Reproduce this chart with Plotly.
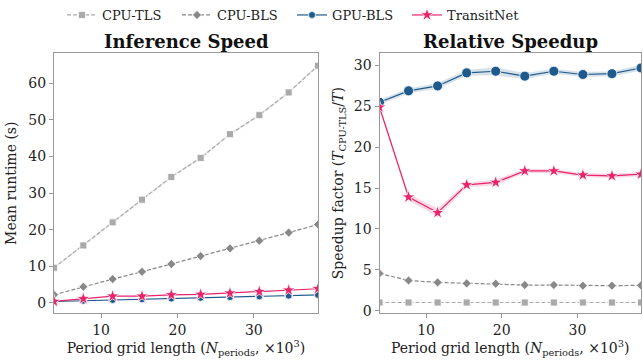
import plotly.graph_objects as go

# ---- data ----
x_periods = [3.84, 7.68, 11.52, 15.36, 19.2, 23.04, 26.88, 30.72, 34.56, 38.4]

rt_cpu_tls = [9.6, 15.7, 22.0, 28.2, 34.4, 39.6, 46.1, 51.3, 57.5, 64.8]
rt_cpu_bls = [2.2, 4.4, 6.5, 8.5, 10.6, 12.8, 14.9, 17.0, 19.2, 21.4]
rt_gpu_bls = [0.38, 0.58, 0.80, 0.97, 1.17, 1.38, 1.57, 1.78, 1.98, 2.18]
rt_transitnet = [0.39, 1.13, 1.83, 1.83, 2.20, 2.32, 2.69, 3.09, 3.48, 3.87]

sp_cpu_tls = [1.0, 1.0, 1.0, 1.0, 1.0, 1.0, 1.0, 1.0, 1.0, 1.0]
sp_cpu_bls = [4.55, 3.7, 3.46, 3.34, 3.3, 3.14, 3.14, 3.06, 3.06, 3.1]
sp_gpu_bls = [25.5, 26.9, 27.5, 29.1, 29.3, 28.7, 29.3, 28.9, 29.0, 29.7]
sp_transitnet = [24.9, 13.9, 12.0, 15.4, 15.7, 17.1, 17.1, 16.6, 16.5, 16.7]

# band half-widths (estimated)
band_gpu_bls = [0.3, 0.3, 0.35, 0.35, 0.5, 0.35, 0.3, 0.3, 0.3, 0.35]
band_transitnet = [0.3, 0.4, 0.5, 0.3, 0.35, 0.25, 0.25, 0.25, 0.25, 0.25]
band_rt = [0.3, 0.3, 0.3, 0.3, 0.3, 0.3, 0.3, 0.3, 0.3, 0.3]

series_names = ["CPU-TLS", "CPU-BLS", "GPU-BLS", "TransitNet"]
colors = {"CPU-TLS": "#aaaaaa", "CPU-BLS": "#888888", "GPU-BLS": "#1f5a8c", "TransitNet": "#e8246a"}
fills = {"GPU-BLS": "rgba(31,90,140,0.18)", "TransitNet": "rgba(232,36,106,0.18)",
         "CPU-TLS": "rgba(170,170,170,0.25)"}
symbols = {"CPU-TLS": "square", "CPU-BLS": "diamond", "GPU-BLS": "circle", "TransitNet": "star"}
dashes = {"CPU-TLS": "4px,2px", "CPU-BLS": "4px,2px", "GPU-BLS": "solid", "TransitNet": "solid"}

FONT = "DejaVu Serif"
fig = go.Figure()


def band(xa, ya, y, hw, color):
    lo = [v - h for v, h in zip(y, hw)]
    hi = [v + h for v, h in zip(y, hw)]
    fig.add_trace(go.Scatter(x=x_periods + x_periods[::-1], y=hi + lo[::-1], fill="toself",
                             fillcolor=color, line=dict(width=0), mode="lines",
                             hoverinfo="skip", showlegend=False, xaxis=xa, yaxis=ya))


band("x", "y", rt_cpu_tls, band_rt, fills["CPU-TLS"])
band("x2", "y2", sp_gpu_bls, band_gpu_bls, fills["GPU-BLS"])
band("x2", "y2", sp_transitnet, band_transitnet, fills["TransitNet"])

left = {"CPU-TLS": rt_cpu_tls, "CPU-BLS": rt_cpu_bls, "GPU-BLS": rt_gpu_bls, "TransitNet": rt_transitnet}
right = {"CPU-TLS": sp_cpu_tls, "CPU-BLS": sp_cpu_bls, "GPU-BLS": sp_gpu_bls, "TransitNet": sp_transitnet}

msize_l = {"CPU-TLS": 7, "CPU-BLS": 7, "GPU-BLS": 7, "TransitNet": 10}
msize_r = {"CPU-TLS": 7, "CPU-BLS": 7, "GPU-BLS": 10, "TransitNet": 10}

for name in series_names:
    fig.add_trace(go.Scatter(x=x_periods, y=left[name], mode="lines+markers", name=name,
                             line=dict(color=colors[name], width=1.2, dash=dashes[name]),
                             marker=dict(symbol=symbols[name], size=msize_l[name], color=colors[name],
                                         line=dict(color="white", width=0.8)),
                             xaxis="x", yaxis="y", legendgroup=name, showlegend=True))
for name in series_names:
    fig.add_trace(go.Scatter(x=x_periods, y=right[name], mode="lines+markers", name=name,
                             line=dict(color=colors[name], width=1.2, dash=dashes[name]),
                             marker=dict(symbol=symbols[name], size=msize_r[name], color=colors[name],
                                         line=dict(color="white", width=0.8)),
                             xaxis="x2", yaxis="y2", legendgroup=name, showlegend=False))

W, H = 643, 364
axcommon = dict(showgrid=False, zeroline=False, showline=True, linecolor="#999999", linewidth=1,
                mirror=True, ticks="outside", ticklen=4, tickcolor="#999999",
                tickfont=dict(family=FONT, size=14, color="#222222"))
xtitle = "Period grid length (<i>N</i><sub>periods</sub>, ×10<sup>3</sup>)"

fig.update_layout(
    width=W, height=H, margin=dict(l=0, r=0, t=0, b=0),
    paper_bgcolor="white", plot_bgcolor="white",
    font=dict(family=FONT, size=14, color="#222222"),
    xaxis=dict(domain=[54 / W, 318 / W], range=[3.84, 38.4], tickvals=[10, 20, 30],
               title=dict(text=xtitle, font=dict(family=FONT, size=14), standoff=4), anchor="y", **axcommon),
    yaxis=dict(domain=[1 - 317.5 / H, 1 - 54 / H], range=[-2.8, 68.2], tickvals=[0, 10, 20, 30, 40, 50, 60],
               title=dict(text="Mean runtime (s)", font=dict(family=FONT, size=14), standoff=8), anchor="x", **axcommon),
    xaxis2=dict(domain=[379.5 / W, 641 / W], range=[3.84, 38.4], tickvals=[10, 20, 30],
                title=dict(text=xtitle, font=dict(family=FONT, size=14), standoff=4), anchor="y2", **axcommon),
    yaxis2=dict(domain=[1 - 317.5 / H, 1 - 54 / H], range=[-0.3, 31.5], tickvals=[0, 5, 10, 15, 20, 25, 30],
                title=dict(text="Speedup factor (<i>T</i><sub>CPU-TLS</sub>/<i>T</i>)",
                           font=dict(family=FONT, size=14), standoff=6), anchor="x2", **axcommon),
    legend=dict(orientation="h", x=292 / W, xanchor="center", y=1.0, yanchor="top",
                font=dict(family=FONT, size=13, color="#222222"), itemwidth=30,
                entrywidth=70, entrywidthmode="pixels",
                bgcolor="rgba(0,0,0,0)"),
    annotations=[
        dict(text="<b>Inference Speed</b>", x=186 / W, y=1 - 42 / H, xref="paper", yref="paper",
             showarrow=False, font=dict(family=FONT, size=18, color="#111111"),
             xanchor="center", yanchor="middle"),
        dict(text="<b>Relative Speedup</b>", x=510 / W, y=1 - 42 / H, xref="paper", yref="paper",
             showarrow=False, font=dict(family=FONT, size=18, color="#111111"),
             xanchor="center", yanchor="middle"),
    ],
)

fig.write_html("out.html")
